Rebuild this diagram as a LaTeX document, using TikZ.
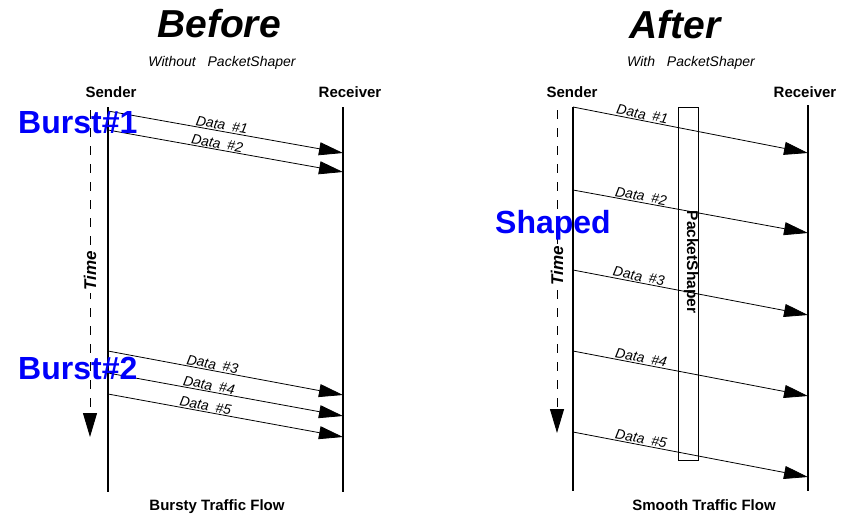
\documentclass[tikz,border=0pt]{standalone}
\usepackage{fontspec}
\setmainfont{Liberation Sans}
\usetikzlibrary{arrows.meta}
\definecolor{burstblue}{RGB}{0,0,250}
\begin{document}
\begin{tikzpicture}[x=1pt,y=-1pt,
  title/.style={font=\fontsize{39}{39}\selectfont\bfseries\itshape, anchor=base, inner sep=0pt},
  subtitle/.style={font=\fontsize{14}{14}\selectfont\itshape, anchor=base, inner sep=0pt},
  party/.style={font=\fontsize{15}{15}\selectfont\bfseries, anchor=base, inner sep=0pt},
  caption/.style={font=\fontsize{15}{15}\selectfont\bfseries, anchor=base, inner sep=0pt},
  burst/.style={font=\fontsize{32}{32}\selectfont\bfseries, text=burstblue, anchor=base west, inner sep=0pt},
  lifeline/.style={line width=1.05pt},
  msg/.style={line width=0.8pt, -{Triangle[length=24pt,width=13pt]}},
  msglabel/.style={font=\fontsize{14}{14}\selectfont\itshape, sloped, above, inner sep=1pt},
  timeline/.style={line width=1pt, dash pattern=on 9pt off 9pt, -{Triangle[length=24pt,width=14pt]}},
  timelabel/.style={font=\fontsize{17}{17}\selectfont\bfseries\itshape, rotate=90, fill=white, inner sep=2pt},
  shaperbox/.style={draw, line width=1pt},
]
\useasboundingbox (0,0) rectangle (845,515);

% ---------------- Before: without PacketShaper ----------------
\node[title]    (tB)  at (219,37) {Before};
\node[subtitle] (sB)  at (222,66) {Without\hspace{8pt} PacketShaper};
\node[party]    (snB) at (111,97) {Sender};
\node[party]    (rcB) at (350,97) {Receiver};

\coordinate (sBtop) at (108,107);  \coordinate (sBbot) at (108,492);
\coordinate (rBtop) at (343,107);  \coordinate (rBbot) at (343,492);
\draw[lifeline] (sBtop) -- (sBbot);
\draw[lifeline] (rBtop) -- (rBbot);

% time axis
\coordinate (tmBtop) at (90,110); \coordinate (tmBbot) at (90,437);
\draw[timeline] (tmBtop) -- (tmBbot);
\node[timelabel] (tmB) at (90,271) {Time};

% messages
\coordinate (b1s) at (108,111); \coordinate (b1e) at (343,153);
\coordinate (b2s) at (108,130); \coordinate (b2e) at (343,172);
\coordinate (b3s) at (108,351); \coordinate (b3e) at (343,395);
\coordinate (b4s) at (108,373); \coordinate (b4e) at (343,416);
\coordinate (b5s) at (108,394); \coordinate (b5e) at (343,437);
\draw[msg] (b1s) -- node[msglabel, pos=0.48] {Data\hspace{3pt} \#1} (b1e);
\draw[msg] (b2s) -- node[msglabel, pos=0.46] {Data\hspace{3pt} \#2} (b2e);
\draw[msg] (b3s) -- node[msglabel, pos=0.44] {Data\hspace{3pt} \#3} (b3e);
\draw[msg] (b4s) -- node[msglabel, pos=0.425] {Data\hspace{3pt} \#4} (b4e);
\draw[msg] (b5s) -- node[msglabel, pos=0.41] {Data\hspace{3pt} \#5} (b5e);

\node[burst] (bu1) at (18,133) {Burst\#1};
\node[burst] (bu2) at (18,379) {Burst\#2};

\node[caption] (cB) at (217,510) {Bursty Traffic Flow};

% ---------------- After: with PacketShaper ----------------
\node[title]    (tA)  at (675,38) {After};
\node[subtitle] (sA)  at (691,66) {With\hspace{8pt} PacketShaper};
\node[party]    (snA) at (572,97) {Sender};
\node[party]    (rcA) at (805,97) {Receiver};

\coordinate (sAtop) at (573,107);  \coordinate (sAbot) at (573,491);
\coordinate (rAtop) at (808,105);  \coordinate (rAbot) at (808,491);
\draw[lifeline] (sAtop) -- (sAbot);
\draw[lifeline] (rAtop) -- (rAbot);

% shaper box
\node[shaperbox, minimum width=20pt, minimum height=353pt, inner sep=0pt] (ps) at (688,283.5) {};

% time axis
\coordinate (tmAtop) at (557,110); \coordinate (tmAbot) at (557,433);
\draw[timeline] (tmAtop) -- (tmAbot);
\node[timelabel] (tmA) at (557,265.5) {Time};

% messages
\coordinate (a1s) at (573,107); \coordinate (a1e) at (808,153);
\coordinate (a2s) at (573,190); \coordinate (a2e) at (808,233);
\coordinate (a3s) at (573,270); \coordinate (a3e) at (808,315);
\coordinate (a4s) at (573,351); \coordinate (a4e) at (808,396);
\coordinate (a5s) at (573,432); \coordinate (a5e) at (808,477);
\draw[msg] (a1s) -- node[msglabel, pos=0.29]  {Data\hspace{3pt} \#1} (a1e);
\draw[msg] (a2s) -- node[msglabel, pos=0.285] {Data\hspace{3pt} \#2} (a2e);
\draw[msg] (a3s) -- node[msglabel, pos=0.275] {Data\hspace{3pt} \#3} (a3e);
\draw[msg] (a4s) -- node[msglabel, pos=0.285] {Data\hspace{3pt} \#4} (a4e);
\draw[msg] (a5s) -- node[msglabel, pos=0.285] {Data\hspace{3pt} \#5} (a5e);

\node[font=\fontsize{15.5}{15.5}\selectfont\bfseries, rotate=-90, inner sep=0pt] (psl) at (691,262) {PacketShaper};

\node[burst] (shp) at (495,233) {Shaped};

\node[caption] (cA) at (704,510) {Smooth Traffic Flow};
\end{tikzpicture}
\end{document}
